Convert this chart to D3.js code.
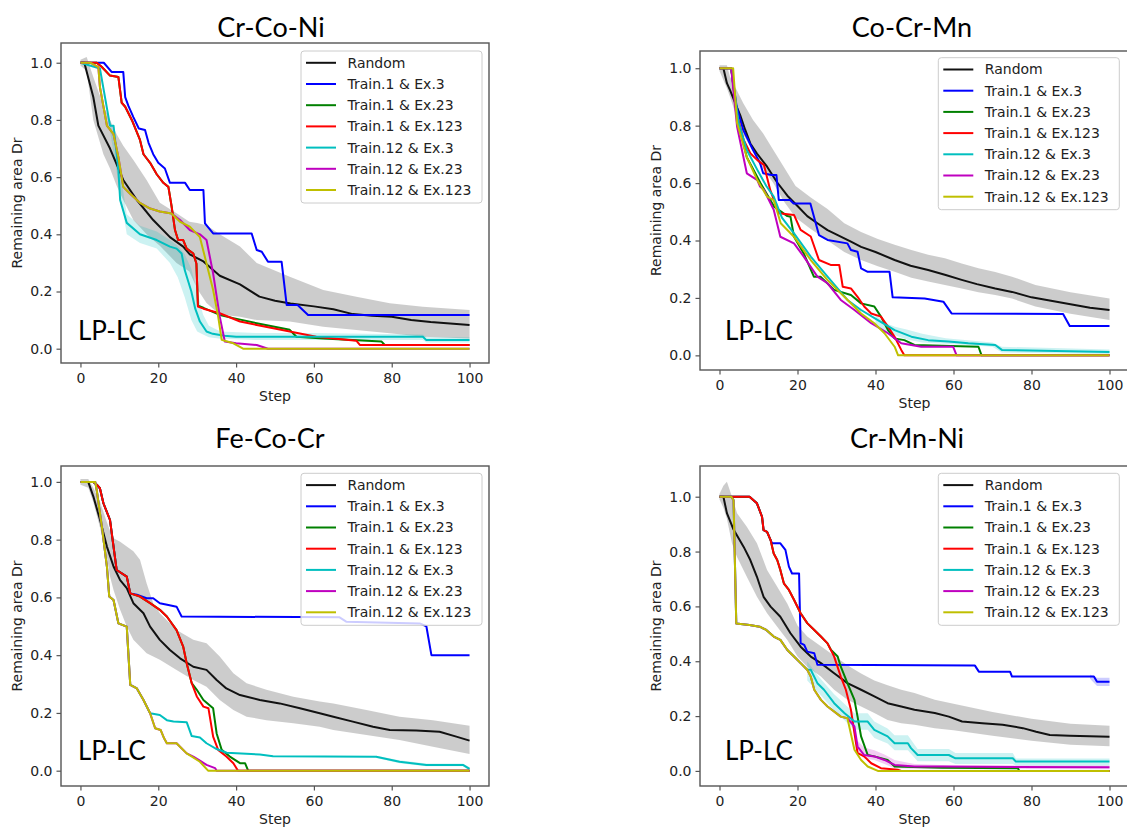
<!DOCTYPE html>
<html>
<head>
<meta charset="utf-8">
<script src="https://cdn.jsdelivr.net/npm/d3@7"></script>
<style>
  body { margin: 0; background: #fff; }
  svg { display: block; }
</style>
</head>
<body>
<svg id="chart" width="1127" height="827"></svg>
<script>
// ---- shared labels / ticks ----
const stepTicks = [0, 20, 40, 60, 80, 100];
const drTicks = [0.0, 0.2, 0.4, 0.6, 0.8, 1.0];
const seriesNames = ["Random", "Train.1 & Ex.3", "Train.1 & Ex.23", "Train.1 & Ex.123",
                     "Train.12 & Ex.3", "Train.12 & Ex.23", "Train.12 & Ex.123"];
const seriesColors = ["#111111", "#0000ff", "#008000", "#ff0000", "#00bfbf", "#bf00bf", "#bfbf00"];
const bandColors = ["#808080", "#0000ff", "#008000", "#ff0000", "#00bfbf", "#bf00bf", "#bfbf00"];
const panelTitles = ["Cr-Co-Ni", "Co-Cr-Mn", "Fe-Co-Cr", "Cr-Mn-Ni"];

// ---- Cr-Co-Ni ----  [step, Dr]
const crCoNiRandom = [[0,1.0],[1,1.0],[3.3,0.88],[4.6,0.78],[7.6,0.70],[11,0.59],[14.5,0.52],[18.7,0.45],[23,0.39],[26.4,0.357],[28.1,0.33],[31.6,0.305],[35.8,0.255],[41,0.225],[46,0.182],[50,0.168],[54,0.158],[60,0.148],[65,0.138],[70,0.121],[75,0.115],[80,0.112],[85,0.10],[90,0.093],[95,0.088],[100,0.083]];
const crCoNiT1E3 = [[0,1.0],[6,1.0],[8,0.968],[11,0.968],[11.5,0.88],[12.3,0.85],[13.6,0.81],[15,0.77],[16.6,0.765],[17.5,0.72],[18.7,0.68],[20,0.65],[21.7,0.63],[23,0.58],[26.9,0.58],[28.1,0.555],[31.6,0.555],[32,0.438],[34.1,0.403],[44,0.403],[45.3,0.345],[46.6,0.339],[48.2,0.304],[51.7,0.304],[53,0.153],[55.8,0.153],[58.5,0.118],[100,0.118]];
const crCoNiT1E23 = [[0,1.0],[4.2,1.0],[5.5,0.985],[7.6,0.955],[9.75,0.95],[10.6,0.86],[11.5,0.846],[13.2,0.80],[15.3,0.73],[16.2,0.68],[17.9,0.65],[19.6,0.61],[21.3,0.58],[22.6,0.566],[23.4,0.50],[24.3,0.415],[25.1,0.38],[26.4,0.38],[27.3,0.35],[29,0.333],[29.8,0.298],[30.2,0.15],[31.6,0.143],[35.8,0.118],[39.3,0.107],[45.3,0.089],[53.8,0.066],[55.5,0.042],[62.4,0.036],[77.4,0.025],[78.2,0.013],[100,0.013]];
const crCoNiT1E123 = [[0,1.0],[4.2,1.0],[5.5,0.985],[7.6,0.955],[9.75,0.95],[10.6,0.86],[11.5,0.846],[13.2,0.80],[15.3,0.73],[16.2,0.68],[17.9,0.65],[19.6,0.61],[21.3,0.58],[22.6,0.566],[23.4,0.50],[24.3,0.415],[25.1,0.38],[26.4,0.38],[27.3,0.35],[29,0.333],[29.8,0.298],[30.2,0.147],[31.6,0.14],[35.8,0.124],[41,0.095],[45.3,0.083],[53.8,0.06],[60.6,0.042],[70.9,0.028],[71.8,0.013],[100,0.013]];
const crCoNiT12E3 = [[0,1.0],[5,0.98],[7.6,0.78],[8.5,0.78],[9.75,0.625],[10.2,0.52],[11.9,0.44],[15.3,0.40],[19.6,0.38],[23,0.357],[24.7,0.35],[26,0.333],[26.8,0.275],[28.5,0.20],[29.5,0.14],[30.7,0.095],[32.4,0.06],[34,0.052],[37,0.045],[40,0.042],[88,0.042],[88.9,0.03],[100,0.03]];
const crCoNiT12E23 = [[0,1.0],[2.5,1.0],[4.6,0.985],[5,0.915],[6.8,0.78],[8.5,0.75],[9.75,0.67],[11,0.566],[12.7,0.543],[15.3,0.51],[17.9,0.49],[20.4,0.48],[23.4,0.473],[25.6,0.45],[28.1,0.415],[30.7,0.40],[32.4,0.38],[34.1,0.263],[35.8,0.112],[37.1,0.025],[40,0.019],[45.3,0.013],[48.2,0.0],[100,0.0]];
const crCoNiT12E123 = [[0,1.0],[2.5,1.0],[4.6,0.985],[5,0.915],[6.8,0.78],[8.5,0.75],[9.75,0.67],[11,0.566],[12.7,0.543],[15.3,0.51],[17.9,0.49],[20.4,0.48],[23.4,0.473],[25.6,0.444],[28.1,0.427],[30.7,0.39],[32.4,0.298],[34.1,0.205],[35.4,0.112],[36.3,0.031],[39.3,0.019],[41.8,0.0],[100,0.0]];
// [step, low, high]
const crCoNiRandomBand = [[0,0.99,1.01],[1.6,0.97,1.02],[3.3,0.80,0.95],[5.9,0.68,0.85],[7.6,0.63,0.80],[9.3,0.57,0.75],[11,0.52,0.71],[13.6,0.45,0.66],[17,0.40,0.59],[20.4,0.36,0.51],[24.7,0.30,0.474],[28,0.27,0.444],[30,0.21,0.44],[32.4,0.16,0.432],[35.8,0.12,0.40],[41,0.112,0.357],[45.3,0.10,0.30],[53.8,0.095,0.252],[62.4,0.077,0.205],[70.9,0.065,0.182],[79.5,0.054,0.159],[88,0.042,0.147],[100,0.036,0.135]];
const crCoNiT12E3Band = [[7.6,0.76,0.80],[9.75,0.58,0.66],[11.9,0.40,0.47],[15.3,0.37,0.43],[19.6,0.35,0.41],[23,0.30,0.38],[25,0.25,0.36],[26.8,0.18,0.33],[28.5,0.10,0.28],[30,0.06,0.20],[31.5,0.05,0.12],[33,0.04,0.08],[36,0.035,0.06],[45,0.03,0.055],[60,0.03,0.055],[88,0.03,0.05],[89,0.022,0.04],[100,0.022,0.04]];

// ---- Co-Cr-Mn ----
const coCrMnRandom = [[0,1.0],[1,1.0],[1.9,0.948],[2.7,0.924],[4.4,0.866],[5.3,0.837],[6.6,0.785],[7.9,0.738],[9.6,0.703],[12.2,0.657],[14.8,0.602],[17.4,0.556],[20,0.52],[22.5,0.485],[25.1,0.46],[27.7,0.436],[29.4,0.425],[33.7,0.396],[36.3,0.378],[40,0.36],[44.9,0.332],[49,0.312],[53.5,0.297],[58,0.28],[62.1,0.263],[66,0.248],[70.7,0.233],[75,0.221],[80,0.202],[85,0.19],[90,0.178],[95,0.166],[100,0.158]];
const coCrMnT1E3 = [[0,1.0],[3,1.0],[4.4,0.866],[6.1,0.785],[8.6,0.715],[10.4,0.669],[11.2,0.634],[13.3,0.628],[14.6,0.628],[15.2,0.541],[18.1,0.541],[19,0.529],[23.3,0.529],[25.5,0.419],[27.7,0.402],[32.8,0.39],[33.7,0.367],[35.4,0.361],[36.3,0.303],[38,0.291],[43.6,0.291],[44.4,0.202],[52.6,0.198],[57.4,0.187],[59.5,0.146],[88.1,0.144],[89.8,0.102],[100,0.102]];
const coCrMnT1E23 = [[0,1.0],[3,1.0],[4.5,0.83],[7,0.69],[10.5,0.60],[14,0.518],[17.4,0.485],[18.2,0.483],[19.1,0.413],[21.6,0.355],[24.2,0.274],[25.9,0.274],[29.4,0.228],[33.7,0.21],[36.3,0.181],[39.7,0.17],[41.4,0.135],[43.2,0.088],[44.9,0.059],[47.4,0.053],[50,0.036],[66.4,0.03],[67.2,0.0],[100,0.0]];
const coCrMnT1E123 = [[0,1.0],[3,1.0],[4.5,0.837],[6.2,0.75],[7.9,0.704],[9.7,0.68],[11.4,0.663],[13,0.576],[15.2,0.495],[19.1,0.489],[20.8,0.437],[23.4,0.414],[25.5,0.332],[28.5,0.315],[30.7,0.315],[31.6,0.239],[33.7,0.233],[35.4,0.204],[37.1,0.17],[38.9,0.146],[41.4,0.135],[43.2,0.10],[44.9,0.065],[46.6,0.019],[47.4,0.0],[100,0.0]];
const coCrMnT12E3 = [[0,1.0],[3,1.0],[4.9,0.81],[7,0.715],[9.7,0.646],[12,0.59],[13.9,0.553],[16,0.48],[19.1,0.425],[23.4,0.344],[27.7,0.274],[32.8,0.193],[36.3,0.158],[40.6,0.123],[44.9,0.088],[49.2,0.065],[53.5,0.053],[58.7,0.048],[63.8,0.042],[70.7,0.036],[72.4,0.019],[100,0.012]];
const coCrMnT12E23 = [[0,1.0],[3,1.0],[4.5,0.797],[7,0.634],[9.7,0.61],[10.4,0.588],[11.4,0.576],[13.9,0.507],[15.6,0.413],[19.1,0.39],[21.6,0.344],[25.1,0.274],[27.7,0.251],[31.1,0.193],[34.6,0.158],[38.9,0.112],[43.2,0.077],[46.6,0.042],[51.7,0.03],[59.9,0.03],[60.8,0.0],[100,0.0]];
const coCrMnT12E123 = [[0,1.0],[3.5,1.0],[4.5,0.81],[7,0.69],[9.7,0.61],[12.2,0.553],[13.9,0.541],[15.7,0.46],[19.1,0.413],[23.4,0.332],[27.7,0.262],[32,0.204],[36.3,0.146],[39.7,0.112],[42.3,0.077],[44.9,0.03],[45.8,0.0],[100,0.0]];
const coCrMnRandomBand = [[0,0.99,1.01],[1.9,0.93,1.01],[2.7,0.90,0.97],[4.4,0.83,0.924],[6.1,0.77,0.878],[8.6,0.71,0.82],[11.2,0.65,0.773],[13.8,0.60,0.715],[16.3,0.54,0.66],[19.5,0.48,0.59],[23.4,0.44,0.55],[27.7,0.40,0.51],[32,0.36,0.46],[36.3,0.332,0.43],[40.6,0.31,0.405],[44.9,0.291,0.385],[49.2,0.27,0.367],[53.5,0.257,0.35],[57.8,0.245,0.338],[62.1,0.233,0.32],[66.4,0.22,0.303],[70.7,0.21,0.29],[75,0.198,0.274],[81,0.17,0.245],[90,0.145,0.22],[100,0.123,0.198]];
const coCrMnT12E3Band = [[40,0.11,0.14],[43,0.075,0.11],[45,0.07,0.10],[48,0.055,0.09],[52,0.045,0.075],[58,0.04,0.06],[70,0.03,0.045],[72.4,0.01,0.03],[100,0.005,0.02]];

// ---- Fe-Co-Cr ----
const feCoCrRandom = [[0,1.0],[2,1.0],[3.3,0.95],[5.05,0.868],[6.8,0.776],[8.5,0.707],[10.2,0.66],[11.9,0.632],[13.6,0.58],[16.2,0.545],[17.9,0.499],[20.4,0.453],[23,0.418],[25.6,0.389],[29,0.36],[32.4,0.349],[35,0.314],[37.5,0.285],[41,0.262],[46.1,0.245],[51.2,0.233],[56.4,0.216],[61.5,0.199],[65,0.187],[70,0.17],[75.2,0.152],[79.5,0.141],[86.3,0.139],[92.3,0.135],[96.6,0.118],[100,0.104]];
const feCoCrT1E3 = [[0,1.0],[3.3,1.0],[4.2,0.99],[5,0.978],[5.9,0.926],[7.6,0.868],[8.5,0.776],[9.3,0.695],[11.9,0.672],[12.8,0.614],[14.5,0.609],[17,0.597],[18.7,0.597],[20.4,0.58],[22.6,0.574],[24.7,0.568],[26,0.534],[66.6,0.531],[68.3,0.516],[87.2,0.51],[88.9,0.50],[90.2,0.40],[100,0.40]];
const feCoCrT1E23 = [[0,1.0],[3.3,1.0],[4.2,0.99],[5,0.978],[5.9,0.926],[7.6,0.868],[8.5,0.776],[9.3,0.695],[11.9,0.672],[12.8,0.614],[15.3,0.603],[17.9,0.58],[20.4,0.557],[22.2,0.534],[24.7,0.487],[26.4,0.43],[27.3,0.372],[28.6,0.303],[29.9,0.28],[31.6,0.245],[34.1,0.216],[35,0.129],[36.3,0.072],[38.4,0.049],[41,0.026],[42.3,0.026],[43.1,0.0],[100,0.0]];
const feCoCrT1E123 = [[0,1.0],[3.3,1.0],[4.2,0.99],[5,0.978],[5.9,0.926],[7.6,0.868],[8.5,0.776],[9.3,0.695],[11.9,0.672],[12.8,0.614],[15.3,0.603],[17.9,0.58],[20.4,0.557],[22.2,0.534],[24.7,0.487],[26.4,0.43],[27.3,0.372],[28.6,0.303],[29.9,0.257],[31.6,0.222],[32.9,0.216],[34.1,0.118],[35.4,0.072],[37.5,0.049],[39.3,0.026],[40.5,0.0],[100,0.0]];
const feCoCrT12E3 = [[0,1.0],[3.8,1.0],[4.2,0.97],[5.5,0.845],[6.8,0.707],[7.4,0.603],[8.5,0.591],[9.75,0.51],[11.9,0.499],[12.8,0.297],[14.5,0.285],[16.2,0.245],[17.9,0.199],[20.4,0.193],[22.2,0.175],[23.9,0.17],[27.3,0.168],[28.6,0.12],[30.7,0.115],[32.4,0.095],[35,0.075],[37.6,0.062],[46.1,0.056],[49.5,0.05],[76,0.048],[82,0.031],[88.9,0.02],[98.3,0.02],[100,0.006]];
const feCoCrT12E23 = [[0,1.0],[3.8,1.0],[4.2,0.97],[5.5,0.845],[6.8,0.707],[7.4,0.603],[8.5,0.591],[9.75,0.51],[11.9,0.499],[12.8,0.297],[14.5,0.285],[16.2,0.245],[17.9,0.199],[19.2,0.147],[20.6,0.141],[21.5,0.112],[22.2,0.095],[24.7,0.095],[27.3,0.06],[29,0.049],[30.7,0.035],[32.4,0.02],[34.6,0.009],[35,0.0],[100,0.0]];
const feCoCrT12E123 = [[0,1.0],[3.8,1.0],[4.2,0.97],[5.5,0.845],[6.8,0.707],[7.4,0.603],[8.5,0.591],[9.75,0.51],[11.9,0.499],[12.8,0.297],[14.5,0.285],[16.2,0.245],[17.9,0.199],[19.2,0.147],[20.6,0.141],[21.5,0.112],[22.2,0.095],[24.7,0.095],[27.3,0.06],[30.7,0.031],[32.8,0.0],[100,0.0]];
const feCoCrRandomBand = [[0,0.99,1.01],[2,0.98,1.01],[3.3,0.93,0.98],[5.05,0.84,0.93],[6.8,0.741,0.86],[7.6,0.672,0.83],[8.5,0.626,0.805],[10.2,0.557,0.793],[11.9,0.499,0.776],[13.6,0.453,0.76],[15.3,0.43,0.73],[17,0.407,0.649],[18.7,0.395,0.58],[20.4,0.384,0.545],[24.7,0.349,0.487],[29,0.314,0.453],[32.4,0.291,0.441],[35.8,0.245,0.395],[39.3,0.21,0.337],[42.7,0.187,0.303],[47.8,0.175,0.28],[54.7,0.164,0.256],[61.5,0.152,0.24],[65,0.141,0.233],[73.5,0.124,0.21],[82,0.106,0.187],[90.6,0.083,0.175],[100,0.058,0.156]];
const feCoCrT12E3Band = [[76,0.044,0.052],[82,0.026,0.036],[88.9,0.015,0.025],[98.3,0.015,0.025],[100,0.0,0.012]];

// ---- Cr-Mn-Ni ----
const crMnNiRandom = [[0,1.0],[1,1.0],[1.9,0.94],[3.6,0.88],[6.2,0.817],[7.9,0.769],[9.6,0.708],[11.3,0.635],[13.1,0.599],[15.6,0.562],[18.2,0.502],[20.8,0.453],[23.4,0.417],[26,0.393],[29.4,0.356],[32.8,0.32],[36.3,0.296],[39.7,0.272],[43.1,0.247],[46.6,0.235],[50,0.223],[55.2,0.211],[58.8,0.198],[62.2,0.18],[67.4,0.174],[72.6,0.168],[77.8,0.156],[81.2,0.143],[84.7,0.131],[89.8,0.128],[100,0.125]];
const crMnNiT1E3 = [[0,1.0],[7.7,1.0],[9.6,0.976],[10.9,0.927],[11.3,0.878],[12.2,0.872],[13.1,0.842],[13.5,0.83],[15.6,0.83],[16.9,0.806],[17.8,0.745],[18.6,0.72],[20.4,0.72],[20.8,0.466],[21.7,0.46],[22.5,0.435],[24.3,0.429],[25.1,0.387],[65.5,0.384],[66.5,0.362],[74.5,0.362],[75,0.344],[96,0.344],[96.8,0.325],[100,0.325]];
const crMnNiT1E23 = [[0,1.0],[7.7,1.0],[9.6,0.976],[10.9,0.927],[11.3,0.878],[12.2,0.872],[13.1,0.842],[13.9,0.793],[14.8,0.769],[15.6,0.733],[16.5,0.684],[17.8,0.66],[19.1,0.624],[20.8,0.575],[22.5,0.539],[24.3,0.514],[26,0.49],[27.7,0.465],[28.6,0.441],[30.3,0.417],[31.1,0.38],[32.8,0.32],[34.6,0.259],[35.4,0.198],[36.3,0.126],[38,0.058],[39.7,0.053],[43.1,0.04],[44.9,0.016],[57,0.012],[76.5,0.01],[76.9,0.0],[100,0.0]];
const crMnNiT1E123 = [[0,1.0],[7.7,1.0],[9.6,0.976],[10.9,0.927],[11.3,0.878],[12.2,0.872],[13.1,0.842],[13.9,0.793],[14.8,0.769],[15.6,0.733],[16.5,0.684],[17.8,0.66],[19.1,0.624],[20.8,0.575],[22.5,0.539],[24.3,0.514],[26,0.49],[27.7,0.465],[29.4,0.417],[31.1,0.344],[32.4,0.296],[33.7,0.223],[34.6,0.138],[35.4,0.065],[37.1,0.053],[38.9,0.028],[41.4,0.01],[45.7,0.004],[46.6,0.0],[100,0.0]];
const crMnNiT12E3 = [[0,1.0],[3,1.0],[3.6,0.988],[4.3,0.538],[7.7,0.532],[10.3,0.526],[12,0.514],[13.9,0.49],[15.6,0.478],[17.4,0.441],[19.1,0.417],[20.8,0.393],[22.5,0.369],[23.4,0.369],[25.1,0.32],[26.8,0.296],[29.4,0.247],[32,0.211],[34.6,0.18],[38,0.18],[39.7,0.15],[43.1,0.126],[44.9,0.101],[48.3,0.101],[49.1,0.083],[50.8,0.058],[58.8,0.058],[60.5,0.046],[75.2,0.046],[76,0.034],[100,0.034]];
const crMnNiT12E23 = [[0,1.0],[3,1.0],[3.6,0.988],[4.3,0.538],[7.7,0.532],[10.3,0.526],[12,0.514],[13.9,0.49],[15.6,0.478],[17.4,0.441],[19.1,0.417],[20.8,0.393],[22.5,0.369],[23.4,0.344],[24.3,0.296],[26,0.259],[27.7,0.235],[31.1,0.198],[32.8,0.192],[34.6,0.162],[35.4,0.089],[37.1,0.058],[39.7,0.053],[42.3,0.04],[44.9,0.022],[50,0.016],[57,0.016],[100,0.013]];
const crMnNiT12E123 = [[0,1.0],[3,1.0],[3.6,0.988],[4.3,0.538],[7.7,0.532],[10.3,0.526],[12,0.514],[13.9,0.49],[15.6,0.478],[17.4,0.441],[19.1,0.417],[20.8,0.393],[22.5,0.369],[23.4,0.344],[24.3,0.296],[26,0.259],[27.7,0.235],[31.1,0.198],[32.8,0.192],[34.6,0.077],[36.3,0.04],[38,0.016],[40.6,0.0],[100,0.0]];
const crMnNiRandomBand = [[0,0.99,1.01],[1,0.96,1.04],[1.9,0.92,1.055],[3.2,0.83,1.0],[4.5,0.78,0.94],[7,0.708,0.89],[9.6,0.635,0.83],[12.2,0.575,0.733],[14.8,0.526,0.672],[17.4,0.477,0.61],[20,0.417,0.53],[22.5,0.38,0.49],[26,0.344,0.455],[29.4,0.296,0.42],[32.8,0.26,0.385],[36.3,0.235,0.355],[39.7,0.211,0.33],[43.1,0.186,0.312],[46.6,0.174,0.296],[50,0.168,0.284],[55.2,0.156,0.26],[60,0.148,0.245],[70,0.128,0.215],[80,0.11,0.19],[90,0.095,0.172],[100,0.09,0.165]];
const crMnNiT1E3Band = [[95,0.336,0.352],[96.8,0.31,0.34],[100,0.31,0.34]];
const crMnNiT12E3Band = [[22.5,0.33,0.40],[25.1,0.29,0.35],[29.4,0.22,0.28],[34.6,0.15,0.21],[38,0.15,0.21],[39.7,0.12,0.18],[43.1,0.10,0.155],[44.9,0.075,0.13],[48.3,0.075,0.13],[50.8,0.035,0.08],[58.8,0.035,0.08],[60.5,0.025,0.065],[75.2,0.025,0.065],[76,0.02,0.045],[100,0.02,0.045]];
const crMnNiT12E23Band = [[35.4,0.07,0.11],[37.1,0.045,0.085],[39.7,0.04,0.075],[42.3,0.025,0.06],[44.9,0.01,0.04],[50,0.008,0.025],[60,0.008,0.02],[100,0.006,0.02]];

// ---- panel layout (pixel boxes of each axes) ----
const panels = [
  { title: panelTitles[0],
    series: [crCoNiRandom, crCoNiT1E3, crCoNiT1E23, crCoNiT1E123, crCoNiT12E3, crCoNiT12E23, crCoNiT12E123],
    bands: [[0, crCoNiRandomBand], [4, crCoNiT12E3Band]],
    left: 61, right: 489, top: 43, bottom: 363, yMin: -0.05, yMax: 1.069,
    titleX: 271, titleY: 36.7, legendX: 301, legendY: 51, lpX: 78, lpY: 340 },
  { title: panelTitles[1],
    series: [coCrMnRandom, coCrMnT1E3, coCrMnT1E23, coCrMnT1E123, coCrMnT12E3, coCrMnT12E23, coCrMnT12E123],
    bands: [[0, coCrMnRandomBand], [4, coCrMnT12E3Band]],
    left: 700, right: 1129, top: 51, bottom: 370, yMin: -0.051, yMax: 1.060,
    titleX: 912, titleY: 36.7, legendX: 938.3, legendY: 57.7, lpX: 725, lpY: 340 },
  { title: panelTitles[2],
    series: [feCoCrRandom, feCoCrT1E3, feCoCrT1E23, feCoCrT1E123, feCoCrT12E3, feCoCrT12E23, feCoCrT12E123],
    bands: [[0, feCoCrRandomBand], [4, feCoCrT12E3Band]],
    left: 61, right: 489, top: 466, bottom: 786, yMin: -0.053, yMax: 1.055,
    titleX: 270, titleY: 448.3, legendX: 301, legendY: 473.3, lpX: 78, lpY: 760 },
  { title: panelTitles[3],
    series: [crMnNiRandom, crMnNiT1E3, crMnNiT1E23, crMnNiT1E123, crMnNiT12E3, crMnNiT12E23, crMnNiT12E123],
    bands: [[0, crMnNiRandomBand], [1, crMnNiT1E3Band], [4, crMnNiT12E3Band], [5, crMnNiT12E23Band]],
    left: 700, right: 1129, top: 466, bottom: 786, yMin: -0.055, yMax: 1.112,
    titleX: 907, titleY: 448.3, legendX: 938.3, legendY: 473.3, lpX: 725, lpY: 760 }
];

const svg = d3.select("#chart");
const tickFont = "'DejaVu Sans', sans-serif";
const axisColor = "#555";

function drawPanel(p, i) {
  const x = d3.scaleLinear().domain([-5, 105]).range([p.left, p.right]);
  const y = d3.scaleLinear().domain([p.yMin, p.yMax]).range([p.bottom, p.top]);
  const g = svg.append("g").attr("class", "panel");

  g.append("clipPath").attr("id", "clip" + i)
    .append("rect")
    .attr("x", p.left).attr("y", p.top)
    .attr("width", p.right - p.left).attr("height", p.bottom - p.top);

  const plot = g.append("g").attr("clip-path", `url(#clip${i})`);

  // shaded std bands first, lines on top
  const area = d3.area().x(d => x(d[0])).y0(d => y(d[1])).y1(d => y(d[2]));
  p.bands.forEach(([k, data]) => {
    plot.append("path")
      .datum(data)
      .attr("fill", bandColors[k])
      .attr("fill-opacity", k === 0 ? 0.4 : 0.2)
      .attr("stroke", "none")
      .attr("d", area);
  });

  const line = d3.line().x(d => x(d[0])).y(d => y(d[1]));
  p.series.forEach((data, k) => {
    plot.append("path")
      .datum(data)
      .attr("fill", "none")
      .attr("stroke", seriesColors[k])
      .attr("stroke-width", 2)
      .attr("stroke-linejoin", "round")
      .attr("d", line);
  });

  // axes
  const xAxis = g.append("g")
    .attr("transform", `translate(0,${p.bottom})`)
    .call(d3.axisBottom(x).tickValues(stepTicks).tickSize(4.5).tickPadding(6).tickFormat(d3.format("d")));
  const yAxis = g.append("g")
    .attr("transform", `translate(${p.left},0)`)
    .call(d3.axisLeft(y).tickValues(drTicks).tickSize(4.5).tickPadding(4).tickFormat(d3.format(".1f")));
  [xAxis, yAxis].forEach(a => {
    a.select(".domain").remove();
    a.selectAll("line").attr("stroke", axisColor).attr("stroke-width", 1.2);
    a.selectAll("text").style("font", `14px ${tickFont}`).attr("fill", "#222");
  });

  g.append("rect")
    .attr("x", p.left).attr("y", p.top)
    .attr("width", p.right - p.left).attr("height", p.bottom - p.top)
    .attr("fill", "none").attr("stroke", axisColor).attr("stroke-width", 1.4);

  g.append("text")
    .attr("x", (p.left + p.right) / 2).attr("y", p.bottom + 38)
    .attr("text-anchor", "middle")
    .style("font", `14px ${tickFont}`).attr("fill", "#222")
    .text("Step");

  g.append("text")
    .attr("transform", `translate(${p.left - 39.5},${(p.top + p.bottom) / 2}) rotate(-90)`)
    .attr("text-anchor", "middle")
    .style("font", `14px ${tickFont}`).attr("fill", "#222")
    .text("Remaining area Dr");

  g.append("text")
    .attr("x", p.titleX).attr("y", p.titleY)
    .attr("text-anchor", "middle")
    .style("font", "27px Lato, 'Open Sans', sans-serif").attr("fill", "#000")
    .text(p.title);

  g.append("text")
    .attr("x", p.lpX).attr("y", p.lpY)
    .style("font", "26px Lato, 'Open Sans', sans-serif").attr("fill", "#000")
    .text("LP-LC");

  // legend
  const lg = g.append("g").attr("transform", `translate(${p.legendX},${p.legendY})`);
  lg.append("rect")
    .attr("width", 181).attr("height", 152).attr("rx", 3)
    .attr("fill", "#fff").attr("fill-opacity", 0.8)
    .attr("stroke", "#ccc").attr("stroke-width", 1);
  seriesNames.forEach((name, k) => {
    const ry = 11.8 + k * 21.2;
    lg.append("line")
      .attr("x1", 5).attr("x2", 35).attr("y1", ry).attr("y2", ry)
      .attr("stroke", seriesColors[k]).attr("stroke-width", 2);
    lg.append("text")
      .attr("x", 46.5).attr("y", ry).attr("dy", "0.35em")
      .style("font", `14px ${tickFont}`).attr("fill", "#222")
      .text(name);
  });
}

panels.forEach(drawPanel);
</script>
</body>
</html>
